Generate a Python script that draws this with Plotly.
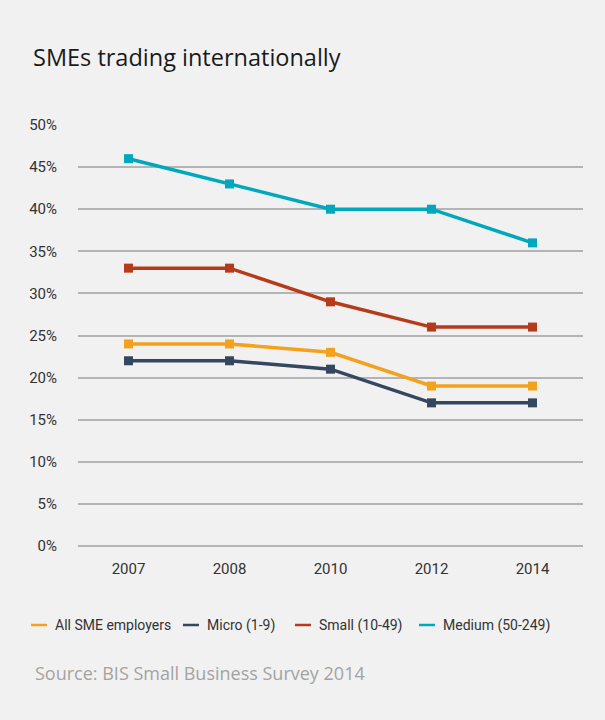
import plotly.graph_objects as go

years = ['2007', '2008', '2010', '2012', '2014']
series_names = ['All SME employers', 'Micro (1-9)', 'Small (10-49)', 'Medium (50-249)']
all_sme = [24, 24, 23, 19, 19]
micro = [22, 22, 21, 17, 17]
small = [33, 33, 29, 26, 26]
medium = [46, 43, 40, 40, 36]
colours = ['#f4a11e', '#34475f', '#b63b1c', '#00a8be']

label_font = 'Roboto, sans-serif'

fig = go.Figure()
for name, vals, col in zip(series_names, [all_sme, micro, small, medium], colours):
    fig.add_trace(go.Scatter(x=years, y=vals, name=name, mode='lines+markers',
                             line=dict(color=col, width=3.5),
                             marker=dict(symbol='square', size=9, color=col),
                             showlegend=False))

# hand made legend, short dashes like the original
legend_x = [31, 183, 295, 419]
ly = -(625 - 546) / 421
for name, col, lx in zip(series_names, colours, legend_x):
    fig.add_shape(type='line', xref='paper', yref='paper',
                  x0=(lx - 78) / 505, x1=(lx - 62) / 505, y0=ly, y1=ly,
                  line=dict(color=col, width=2.5))
    fig.add_annotation(text=name, xref='paper', yref='paper',
                       x=(lx - 56) / 505, y=ly,
                       xanchor='left', yanchor='middle', showarrow=False,
                       font=dict(family=label_font, size=14, color='#333333'))

fig.add_annotation(text='Source: BIS Small Business Survey 2014', xref='paper', yref='paper',
                   x=(33 - 78) / 505, y=-(673 - 546) / 421, xanchor='left', yanchor='middle',
                   showarrow=False, font=dict(family='Open Sans, sans-serif', size=18, color='#a3a3a3'))

fig.update_layout(
    width=605, height=720,
    paper_bgcolor='#f1f1f1', plot_bgcolor='#f1f1f1',
    margin=dict(l=78, r=22, t=125, b=174),
    title=dict(text='SMEs trading internationally', x=33 / 605, xanchor='left',
               y=1 - 58 / 720, yanchor='middle',
               font=dict(family='Open Sans, sans-serif', size=23.5, color='#1a1a1a')),
    xaxis=dict(type='category', range=[-0.5, 4.5], showgrid=False, zeroline=False,
               showline=False, ticks='', ticklabelstandoff=12,
               tickfont=dict(family=label_font, size=15, color='#333333')),
    yaxis=dict(range=[0, 50], dtick=5, ticksuffix='%', showgrid=True, gridcolor='#b4b4b4',
               gridwidth=1.5, zeroline=True, zerolinecolor='#b4b4b4', zerolinewidth=1.5,
               showline=False, ticks='', ticklabelstandoff=20,
               tickfont=dict(family=label_font, size=15, color='#333333')),
)

fig.write_html("out.html", config={'displayModeBar': False},
               post_script="document.body.style.margin='0px';")
